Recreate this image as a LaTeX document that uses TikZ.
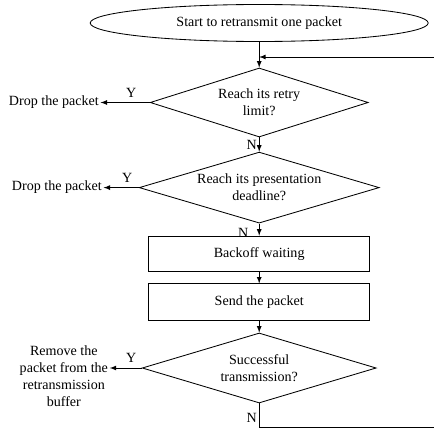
\documentclass[tikz,border=0pt]{standalone}
\usepackage{fontspec}
\setmainfont{Liberation Serif}
\usetikzlibrary{positioning,shapes.geometric}

\begin{document}
\begin{tikzpicture}[
  line width=0.6pt,
  term/.style={ellipse, draw, inner sep=0pt, minimum width=8.45cm, minimum height=0.925cm},
  decide/.style={diamond, draw, align=center, inner sep=0pt, aspect=3.2},
  proc/.style={rectangle, draw, align=center, minimum width=5.525cm},
  outcome/.style={align=center, inner sep=1pt},
  arr/.style={->, >=latex},
  yn/.style={inner sep=1.5pt},
  yes/.style={inner sep=3.5pt, above},
]
\useasboundingbox (0,0) rectangle (10.85,-10.825);

\node[term] (start) at (6.48,-0.575) {Start to retransmit one packet};

\node[decide, minimum width=5.45cm, minimum height=1.725cm] (retry) at (6.48,-2.5625)
  {Reach its retry\\limit?};
\node[decide, minimum width=6.0cm, minimum height=1.775cm] (deadline) at (6.48,-4.69)
  {Reach its presentation\\deadline?};
\node[proc, minimum height=0.875cm] (backoff) at (6.48,-6.34) {Backoff waiting};
\node[proc, minimum height=0.925cm] (send) at (6.48,-7.56) {Send the packet};
\node[decide, minimum width=5.85cm, minimum height=1.75cm] (success) at (6.48,-9.2)
  {Successful\\transmission?};

% outcomes on the left
\node[outcome, left=1.23cm of retry] (drop1) {Drop the packet};
\node[outcome, left=0.88cm of deadline] (drop2) {Drop the packet};
\node[outcome, left=0.8cm of success, yshift=-0.2cm] (remove)
  {Remove the\\packet from the\\retransmission\\buffer};

% main flow
\draw[arr] (start) -- (retry);
\draw[arr] (retry) -- node[yn, left] {N} (deadline);
\draw[arr] (deadline) -- node[yn, left, xshift=-6pt, yshift=-2pt] {N} (backoff);
\draw[arr] (backoff) -- (send);
\draw[arr] (send) -- (success);

\draw[arr] (retry.west) -- node[yes, pos=0.38] {Y} (drop1);
\draw[arr] (deadline.west) -- node[yes, pos=0.33] {Y} (drop2);
\draw[arr] (success.west) -- node[yes, pos=0.33] {Y} (success.west -| remove.east);

% retransmit loop
\coordinate (back) at (11.0,-1.425);
\coordinate (join) at (start.south |- back);
\draw[arr] (success.south) -- node[yn, left, pos=0.6] {N} ++(0,-0.6) -| (back) -- (join);

\end{tikzpicture}
\end{document}
